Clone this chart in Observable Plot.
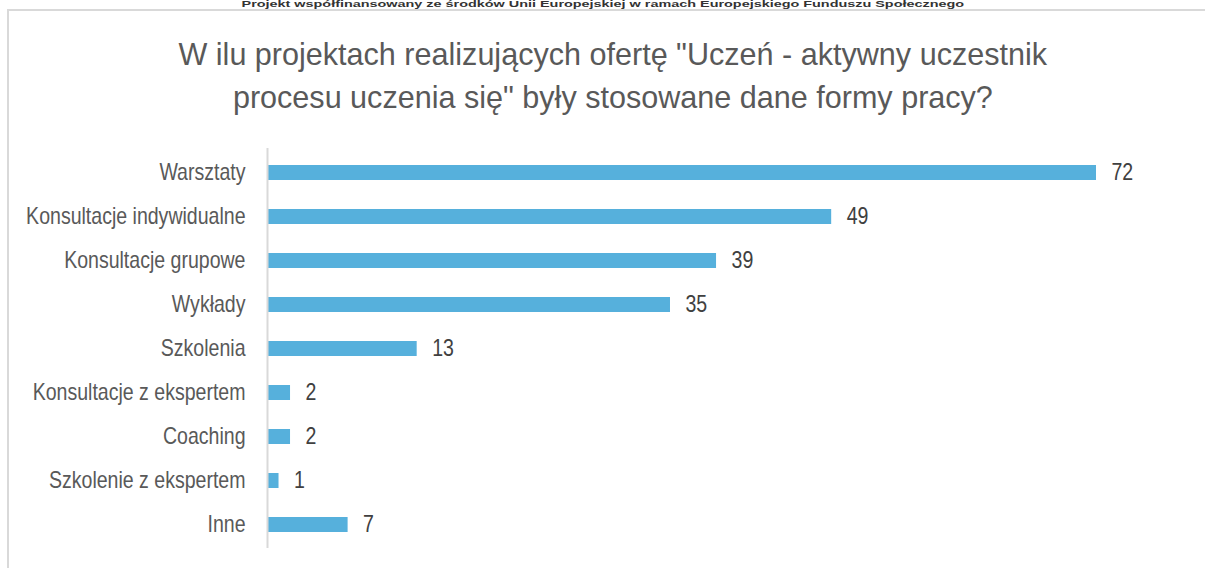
<!DOCTYPE html>
<html>
<head>
<meta charset="utf-8">
<script src="https://cdn.jsdelivr.net/npm/d3@7"></script>
<script src="https://cdn.jsdelivr.net/npm/@observablehq/plot@0.6"></script>
<style>
  html, body { margin: 0; padding: 0; background: #fff; width: 1205px; height: 568px; overflow: hidden; font-family: "Liberation Sans", Arial, sans-serif; }
  #header { position: absolute; left: 0; width: 1205px; top: 0px; text-align: center; font-size: 9px; line-height: 9px; font-weight: bold; color: #333; }
  #header span { display: inline-block; transform: scaleX(1.6); transform-origin: center; }
  #frame { position: absolute; left: 7px; top: 9px; width: 1220px; height: 600px; border: 2px solid #d9d9d9; box-sizing: border-box; }
  #title { position: absolute; left: 0; width: 1225px; top: 33px; text-align: center; font-size: 32px; line-height: 43px; color: #595959; }
  #title span { display: inline-block; transform: scaleX(0.955); transform-origin: center; white-space: nowrap; }
  #chart { position: absolute; left: 0; top: 140px; }
</style>
</head>
<body>
<div id="header"><span>Projekt współfinansowany ze środków Unii Europejskiej w ramach Europejskiego Funduszu Społecznego</span></div>
<div id="frame"></div>
<div id="title"><span>W ilu projektach realizujących ofertę "Uczeń - aktywny uczestnik</span><br><span>procesu uczenia się" były stosowane dane formy pracy?</span></div>
<div id="chart"></div>
<script>
const categories = ["Warsztaty", "Konsultacje indywidualne", "Konsultacje grupowe", "Wykłady", "Szkolenia", "Konsultacje z ekspertem", "Coaching", "Szkolenie z ekspertem", "Inne"];
const values = [72, 49, 39, 35, 13, 2, 2, 1, 7];

const data = categories.map((c, i) => ({category: c, value: values[i]}));

const chart = Plot.plot({
  width: 1205,
  height: 416,
  marginTop: 8,
  marginBottom: 8,
  marginLeft: 267,
  marginRight: 109,
  style: {fontFamily: "Liberation Sans, Arial, sans-serif", fontSize: "23px", background: "transparent"},
  x: {domain: [0, 72], axis: null},
  y: {domain: categories, paddingInner: 0.66, paddingOuter: 0.3, label: null, axis: null},
  marks: [
    Plot.barX(data, {x: "value", y: "category", fill: "#56b0dc"}),
    Plot.ruleX([0], {stroke: "#d9d9d9", strokeWidth: 2}),
    Plot.text(data, {x: "value", y: "category", text: d => String(d.value), dx: 15, textAnchor: "start", fill: "#404040", fontSize: 23}),
    Plot.axisY({tickSize: 0, tickPadding: 22, fontSize: 23, fill: "#595959", color: "#595959", label: null})
  ]
});
document.getElementById("chart").appendChild(chart);
// condense glyphs horizontally (the reference uses a narrower rendering of the font)
chart.querySelectorAll("text").forEach(t => {
  const ax = +(t.getAttribute("x") || 0);
  const prev = t.getAttribute("transform") || "";
  t.setAttribute("transform", `${prev} translate(${ax},0) scale(0.85,1) translate(${-ax},0)`);
});
</script>
</body>
</html>
